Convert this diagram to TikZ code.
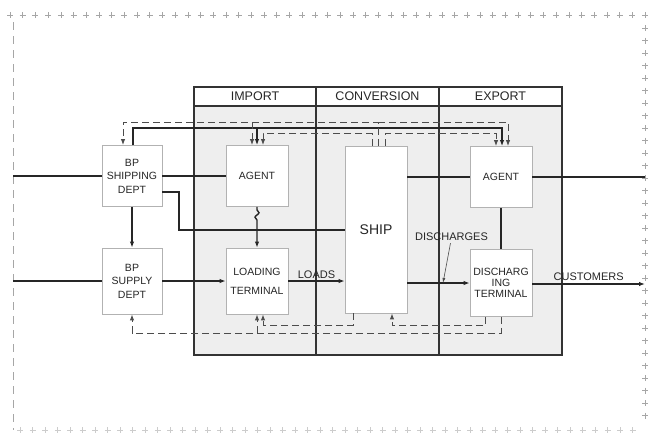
\documentclass[tikz,border=0pt]{standalone}
\usepackage{fontspec}
\setmainfont{Liberation Sans}
\usepackage{tikz}
\usetikzlibrary{arrows.meta,positioning,decorations.pathmorphing}

\tikzset{
  box/.style={draw=gray!60, fill=white, line width=0.8pt, align=center, inner sep=1pt,
    text=black!85, font=\fontsize{10.5}{13.5}\selectfont},
  hdr/.style={text=black!85, font=\fontsize{12.5}{14}\selectfont},
  lbl/.style={text=black!85, font=\fontsize{11}{12}\selectfont, inner sep=2pt},
  grid/.style={draw=black!80, line width=1.1pt},
  conn/.style={draw=black!85, line width=1.4pt, >={Latex[length=6pt,width=4.5pt]}},
  dconn/.style={draw=black!70, line width=1pt, dash pattern=on 7pt off 4pt,
    >={Latex[length=6pt,width=4.5pt]}},
  cross/.style={draw=gray!70, line width=0.6pt}
}

\begin{document}
\begin{tikzpicture}[x=1pt, y=-1pt]
  \useasboundingbox (0,0) rectangle (654,434);

  % page frame
  \draw[gray!70, line width=0.6pt, dash pattern=on 8pt off 6pt] (13,22) -- (13,430);
  \foreach \x in {10,22.7,...,648}
    \draw[cross] (\x,12) -- (\x,18) (\x-3,15) -- (\x+3,15);
  \foreach \y in {28,40.5,...,420}
    \draw[cross] (645,\y-3) -- (645,\y+3) (642,\y) -- (648,\y);
  \foreach \x in {20,32.5,...,640}
    \draw[cross, draw=gray!40] (\x,427) -- (\x,433) (\x-3,430) -- (\x+3,430);

  % table
  \fill[gray!13] (194,106) rectangle (562,355);
  \draw[grid] (194,87) rectangle (562,355);
  \draw[grid] (194,106) -- (562,106);
  \draw[grid] (316,87) -- (316,355);
  \draw[grid] (439,87) -- (439,355);
  \node[hdr] (himport) at (255,96.5) {IMPORT};
  \node[hdr] (hconv) at (377.5,96.5) {CONVERSION};
  \node[hdr] (hexport) at (500.5,96.5) {EXPORT};

  % boxes
  \node[box, minimum width=60, minimum height=61] (shipdept) at (132,176) {BP\\SHIPPING\\DEPT};
  \node[box, minimum width=60, minimum height=66] (supplydept) at (132,281) {BP\\SUPPLY\\DEPT};
  \node[box, minimum width=62, minimum height=61] (impagent) at (257,176) {AGENT};
  \node[box, minimum width=62, minimum height=66, font=\fontsize{10.5}{19}\selectfont] (loadterm) at (257,281) {LOADING\\TERMINAL};
  \node[box, minimum width=62, minimum height=167, font=\fontsize{14}{16}\selectfont] (ship) at (376,229.5) {SHIP};
  \node[box, minimum width=62, minimum height=61] (expagent) at (501,177) {AGENT};
  \node[box, minimum width=62, minimum height=67, font=\fontsize{10.5}{11}\selectfont] (dischterm) at (501,283) {DISCHARG\\ING\\TERMINAL};

  \coordinate (inship) at (13,176);
  \coordinate (insupply) at (13,281);
  \coordinate (outagent) at (645,177);
  \coordinate (outcust) at (645,284);
  \coordinate (bend) at (179,230);
  \coordinate (solidtop) at (133,128);
  \coordinate (dashtop) at (378,122);
  \coordinate (dashbot) at (132,333);
  \coordinate (dpt) at (443,283);

  % solid flows
  \draw[conn] (inship) -- (inship -| shipdept.west);
  \draw[conn] (shipdept.east) -- (shipdept.east -| impagent.west);
  \draw[conn] (expagent.west) -- (expagent.west -| ship.east);
  \draw[conn] (expagent.east) -- (outagent);
  \draw[conn, line width=1.7pt] ([yshift=-16pt]shipdept.east) -| (bend) -- (bend -| ship.west);
  \draw[conn, ->] (shipdept.south) -- (supplydept.north);
  \draw[conn, ->] (impagent.south) -- ++(0,3)
    decorate[decoration={snake, amplitude=2pt, segment length=9pt}] {-- ++(0,13)}
    -- (loadterm.north);
  \draw[conn] (insupply) -- (insupply -| supplydept.west);
  \draw[conn, ->] (supplydept.east) -- (loadterm.west);
  \draw[conn, ->] (loadterm.east) -- (loadterm.east -| ship.west) node[lbl, midway, above] (loads) {LOADS};
  \draw[conn, ->] (dischterm.west -| ship.east) -- (dischterm.west);
  \draw[conn] (expagent.south) -- (dischterm.north);
  \draw[conn, ->] (dischterm.east |- outcust) -- (outcust) node[lbl, midway, above=1pt] (cust) {CUSTOMERS};
  \node[lbl] (dlbl) at (451.5,237) {DISCHARGES};
  \draw[black!70, line width=0.6pt, -{Latex[length=5pt,width=3pt]}] ([xshift=-1pt]dlbl.south) -- (dpt);

  % information lines, top
  \draw[conn, ->] ([xshift=1pt]shipdept.north) |- (solidtop) -| ([xshift=1pt]expagent.north);
  \draw[conn, ->] (impagent.north |- solidtop) -- (impagent.north);
  \draw[dconn, ->] ([xshift=2pt]ship.north) -- (dashtop) -| ([xshift=-9pt]shipdept.north);
  \draw[dconn, ->] (dashtop) -| ([xshift=7pt]expagent.north);
  \draw[dconn, ->] ([xshift=-5pt]impagent.north |- dashtop) -- ([xshift=-5pt]impagent.north);
  \draw[dconn, ->] ([xshift=-4pt]ship.north) -- ++(0,-12) -| ([xshift=6pt]impagent.north);
  \draw[dconn, ->] ([xshift=9pt]ship.north) -- ++(0,-12) -| ([xshift=-5pt]expagent.north);

  % information lines, bottom
  \draw[dconn, ->] ([xshift=-23pt]ship.south) -- ++(0,12) -| ([xshift=6pt]loadterm.south);
  \draw[dconn, ->] ([xshift=-16pt]dischterm.south) -- ++(0,9) -| ([xshift=16pt]ship.south);
  \draw[dconn, ->] (dischterm.south) |- (dashbot) -- (supplydept.south);
  \draw[dconn, ->] (loadterm.south |- dashbot) -- (loadterm.south);
\end{tikzpicture}
\end{document}
